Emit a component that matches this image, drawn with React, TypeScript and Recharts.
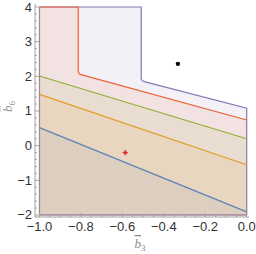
import React from 'react';
import { ComposedChart, Area, XAxis, YAxis, Scatter, ReferenceLine } from 'recharts';

// boundary curves (x = b3, y = b6)
const bluePts = [{ x: -1, y: 0.52 }, { x: 0, y: -1.91 }];
const orangePts = [{ x: -1, y: 1.48 }, { x: 0, y: -0.55 }];
const greenPts = [{ x: -1, y: 2.01 }, { x: 0, y: 0.2 }];
const redPts = [
    { x: -1, y: 4 },
    { x: -0.813, y: 4 },
    { x: -0.813, y: 2.13 },
    { x: -0.807, y: 2.07 },
    { x: -0.795, y: 2.04 },
    { x: 0, y: 0.74 },
];
const purplePts = [
    { x: -1, y: 4 },
    { x: -0.509, y: 4 },
    { x: -0.509, y: 1.92 },
    { x: -0.503, y: 1.87 },
    { x: -0.49, y: 1.84 },
    { x: 0, y: 1.08 },
    { x: 0, y: -2 },
];
const blackPoint = [{ x: -0.332, y: 2.36 }];
const redPoint = [{ x: -0.586, y: -0.2 }];

const xMajor = [-1.0, -0.8, -0.6, -0.4, -0.2, 0.0];
const yMajor = [-2, -1, 0, 1, 2, 3, 4];
const xTicks = [
    -1, -0.95, -0.9, -0.85, -0.8, -0.75, -0.7, -0.65, -0.6, -0.55, -0.5,
    -0.45, -0.4, -0.35, -0.3, -0.25, -0.2, -0.15, -0.1, -0.05, 0,
];
const yTicks = [
    -2, -1.8, -1.6, -1.4, -1.2, -1, -0.8, -0.6, -0.4, -0.2, 0, 0.2, 0.4, 0.6, 0.8,
    1, 1.2, 1.4, 1.6, 1.8, 2, 2.2, 2.4, 2.6, 2.8, 3, 3.2, 3.4, 3.6, 3.8, 4,
];

const FRAME = '#a0a0a0';
const TEXT = '#333333';
const LABEL = '#8a8a8a';
const FONT = '"Liberation Sans", Arial, sans-serif';

const BLUE = '#5e81b5';
const ORANGE = '#e19c24';
const GREEN = '#8fb032';
const RED = '#eb6235';
const PURPLE = '#8778b3';
const EDGE = '#a08496';

const isMajor = (v: number, list: number[]) => list.some((m) => Math.abs(m - v) < 1e-6);
const minus = (s: string) => s.replace('-', '\u2212');

const BottomTick = (props: any) => {
    const { x, y, payload } = props;
    const major = isMajor(payload.value, xMajor);
    return (
        <g>
            <line x1={x} y1={y} x2={x} y2={y - (major ? 4 : 2)} stroke={FRAME} />
            {major && (
                <text x={x} y={y + 14} textAnchor="middle" fill={TEXT} fontSize={13} fontFamily={FONT}>
                    {minus(payload.value.toFixed(1))}
                </text>
            )}
        </g>
    );
};

const TopTick = (props: any) => {
    const { x, y, payload } = props;
    const major = isMajor(payload.value, xMajor);
    return <line x1={x} y1={y} x2={x} y2={y + (major ? 4 : 2)} stroke={FRAME} />;
};

const LeftTick = (props: any) => {
    const { x, y, payload } = props;
    const major = isMajor(payload.value, yMajor);
    return (
        <g>
            <line x1={x} y1={y} x2={x + (major ? 4 : 2)} y2={y} stroke={FRAME} />
            {major && (
                <text x={x - 3} y={y + 4.5} textAnchor="end" fill={TEXT} fontSize={13} fontFamily={FONT}>
                    {minus(String(payload.value))}
                </text>
            )}
        </g>
    );
};

const RightTick = (props: any) => {
    const { x, y, payload } = props;
    const major = isMajor(payload.value, yMajor);
    return <line x1={x} y1={y} x2={x - (major ? 4 : 2)} y2={y} stroke={FRAME} />;
};

const XLabel = (props: any) => {
    const vb = props.viewBox;
    const cx = vb.x + vb.width / 2 - 2;
    return (
        <text x={cx} y={vb.y + 31} textAnchor="middle" fill={LABEL} fontSize={13} fontFamily="Liberation Serif, serif">
            <tspan fontStyle="italic" style={{ textDecoration: 'overline' }}>b</tspan>
            <tspan fontSize={9} dy={3}>3</tspan>
        </text>
    );
};

const YLabel = (props: any) => {
    const vb = props.viewBox;
    const x = vb.x + 12;
    const cy = vb.y + vb.height / 2 - 4;
    return (
        <text x={x} y={cy} textAnchor="middle" fill={LABEL} fontSize={13} fontFamily="Liberation Serif, serif"
            transform={`rotate(-90, ${x}, ${cy})`}>
            <tspan fontStyle="italic" style={{ textDecoration: 'overline' }}>b</tspan>
            <tspan fontSize={9} dy={3}>6</tspan>
        </text>
    );
};

const Dot = (props: any) => <circle cx={props.cx} cy={props.cy} r={2.2} fill="#000" />;
const Cross = (props: any) => (
    <g stroke="#e8262a" strokeWidth={1.6}>
        <line x1={props.cx - 2.5} y1={props.cy} x2={props.cx + 2.5} y2={props.cy} />
        <line x1={props.cx} y1={props.cy - 2.5} x2={props.cx} y2={props.cy + 2.5} />
    </g>
);

const X_DOMAIN = [-1.0217, 0.0111];
const Y_DOMAIN = [-2.0577, 4.0865];

const regions = [
    { key: 'purple', data: purplePts, color: PURPLE, opacity: 0.1 },
    { key: 'red', data: redPts, color: RED, opacity: 0.1 },
    { key: 'green', data: greenPts, color: GREEN, opacity: 0.09 },
    { key: 'orange', data: orangePts, color: ORANGE, opacity: 0.1 },
    { key: 'blue', data: bluePts, color: BLUE, opacity: 0.08 },
];

export default function App() {
    return (
        <div style={{ position: 'absolute', left: 0, top: 0, width: 256, height: 254, background: '#fff' }}>
            <ComposedChart width={256} height={254} margin={{ top: 4, right: 7, bottom: 0, left: 0 }}>
                <XAxis
                    type="number" dataKey="x" domain={X_DOMAIN} ticks={xTicks} allowDataOverflow
                    interval={0} height={37} tickSize={0} tickMargin={0} tickLine={false}
                    axisLine={{ stroke: FRAME }} tick={<BottomTick />}
                    label={{ content: XLabel }}
                />
                <XAxis
                    xAxisId="top" orientation="top" type="number" dataKey="x" domain={X_DOMAIN} ticks={xTicks}
                    allowDataOverflow interval={0} height={0} tickSize={0} tickMargin={0} tickLine={false}
                    axisLine={{ stroke: FRAME }} tick={<TopTick />}
                />
                <YAxis
                    type="number" domain={Y_DOMAIN} ticks={yTicks} allowDataOverflow interval={0}
                    width={35} tickSize={0} tickMargin={0} tickLine={false}
                    axisLine={{ stroke: FRAME }} tick={<LeftTick />}
                    label={{ content: YLabel }}
                />
                <YAxis
                    yAxisId="right" orientation="right" type="number" domain={Y_DOMAIN} ticks={yTicks}
                    allowDataOverflow interval={0} width={0} tickSize={0} tickMargin={0} tickLine={false}
                    axisLine={{ stroke: FRAME }} tick={<RightTick />}
                />
                {regions.map((r) => (
                    <Area
                        key={r.key}
                        data={r.data}
                        dataKey="y"
                        type="linear"
                        baseValue={-2}
                        stroke={r.color}
                        strokeWidth={1.2}
                        fill={r.color}
                        fillOpacity={r.opacity}
                        dot={false}
                        activeDot={false}
                        isAnimationActive={false}
                    />
                ))}
                <ReferenceLine segment={[{ x: -1, y: -2 }, { x: 0, y: -2 }]} stroke={EDGE} strokeWidth={1.4} />
                <ReferenceLine segment={[{ x: -1, y: -2 }, { x: -1, y: 4 }]} stroke={EDGE} strokeWidth={1.2} />
                <Scatter data={blackPoint} dataKey="y" shape={Dot} isAnimationActive={false} />
                <Scatter data={redPoint} dataKey="y" shape={Cross} isAnimationActive={false} />
            </ComposedChart>
        </div>
    );
}
